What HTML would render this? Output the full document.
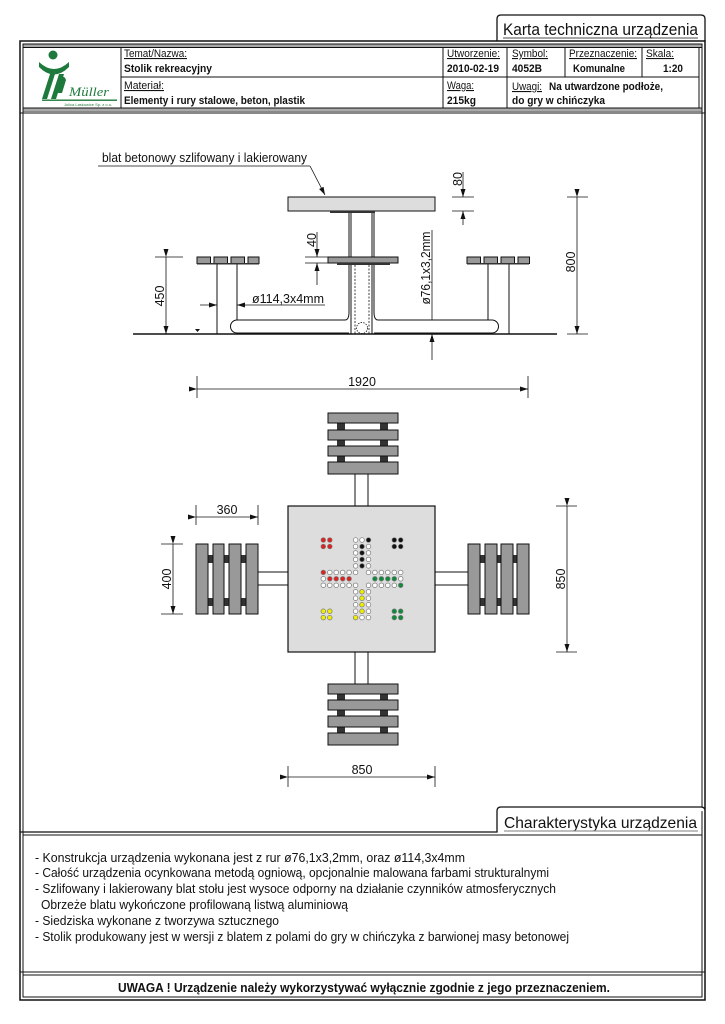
<!DOCTYPE html>
<html><head><meta charset="utf-8"><style>
html,body{margin:0;padding:0;background:#fff}
svg{display:block}
text{font-family:"Liberation Sans",sans-serif;fill:#111}
.b{font-weight:bold}
#dots circle{stroke:#777;stroke-width:0.7}
.W{fill:#fff}.R{fill:#d22}.K{fill:#111}.Y{fill:#ee0}.G{fill:#108a3a}
</style></head><body>
<svg width="725" height="1024" viewBox="0 0 725 1024" xmlns="http://www.w3.org/2000/svg">
<defs>
<marker id="a" markerWidth="8" markerHeight="6" refX="8" refY="3" orient="auto" markerUnits="userSpaceOnUse"><path d="M0,0.5 L8,3 L0,5.5 z" fill="#111"/></marker>
</defs>
<!-- top tab -->
<path d="M497,41 V19 Q497,15 501,15 H701 Q705,15 705,19 V41" fill="#fff" stroke="#111" stroke-width="1.3"/>
<text x="503" y="35" font-size="17" textLength="195" lengthAdjust="spacingAndGlyphs">Karta techniczna urządzenia</text>
<line x1="503" y1="38" x2="698" y2="38" stroke="#111" stroke-width="0.8"/>
<!-- frame -->
<rect x="20" y="41" width="685" height="959" fill="none" stroke="#111" stroke-width="1.5"/>
<rect x="23" y="44" width="679" height="953" fill="none" stroke="#111" stroke-width="1"/>
<!-- header -->
<rect x="23" y="44" width="679" height="67" fill="#fff" stroke="#111" stroke-width="1"/>
<line x1="20" y1="113" x2="705" y2="113" stroke="#111" stroke-width="1"/>
<rect x="23.5" y="44.5" width="678" height="3" fill="#aaa"/>
<rect x="23.5" y="108" width="678" height="3" fill="#aaa"/>
<line x1="23" y1="47.5" x2="702" y2="47.5" stroke="#111"/>
<line x1="23" y1="108" x2="702" y2="108" stroke="#111"/>
<g stroke="#111" stroke-width="1">
<line x1="121" y1="47" x2="121" y2="108"/>
<line x1="121" y1="77" x2="699" y2="77"/>
<line x1="443" y1="47" x2="443" y2="108"/>
<line x1="507" y1="47" x2="507" y2="108"/>
<line x1="565" y1="47" x2="565" y2="77"/>
<line x1="642" y1="47" x2="642" y2="77"/>
<line x1="699" y1="47" x2="699" y2="108"/>
</g>
<g font-size="11">
<text x="124" y="57" textLength="63" lengthAdjust="spacingAndGlyphs" text-decoration="underline">Temat/Nazwa:</text>
<text x="124" y="72" class="b" textLength="88" lengthAdjust="spacingAndGlyphs">Stolik rekreacyjny</text>
<text x="124" y="89" textLength="40" lengthAdjust="spacingAndGlyphs" text-decoration="underline">Materiał:</text>
<text x="124" y="104" class="b" textLength="181" lengthAdjust="spacingAndGlyphs">Elementy i rury stalowe, beton, plastik</text>
<text x="447" y="57" textLength="53" lengthAdjust="spacingAndGlyphs" text-decoration="underline">Utworzenie:</text>
<text x="447" y="72" class="b" textLength="52" lengthAdjust="spacingAndGlyphs">2010-02-19</text>
<text x="447" y="89" textLength="27" lengthAdjust="spacingAndGlyphs" text-decoration="underline">Waga:</text>
<text x="447" y="104" class="b" textLength="29" lengthAdjust="spacingAndGlyphs">215kg</text>
<text x="512" y="57" textLength="36" lengthAdjust="spacingAndGlyphs" text-decoration="underline">Symbol:</text>
<text x="512" y="72" class="b" textLength="30" lengthAdjust="spacingAndGlyphs">4052B</text>
<text x="569" y="57" textLength="68" lengthAdjust="spacingAndGlyphs" text-decoration="underline">Przeznaczenie:</text>
<text x="573" y="72" class="b" textLength="52" lengthAdjust="spacingAndGlyphs">Komunalne</text>
<text x="646" y="57" textLength="28" lengthAdjust="spacingAndGlyphs" text-decoration="underline">Skala:</text>
<text x="663" y="72" class="b" textLength="20" lengthAdjust="spacingAndGlyphs">1:20</text>
<text x="512" y="90" textLength="30" lengthAdjust="spacingAndGlyphs" text-decoration="underline">Uwagi:</text>
<text x="549" y="90" class="b" textLength="114" lengthAdjust="spacingAndGlyphs">Na utwardzone podłoże,</text>
<text x="512" y="104" class="b" textLength="93" lengthAdjust="spacingAndGlyphs">do gry w chińczyka</text>
</g>
<!-- logo -->
<g fill="#1e7a3c">
<circle cx="53" cy="55" r="4.5"/>
<path d="M39,62 Q54,76 69,62 L69,67 Q54,82 39,67 z"/>
<path d="M42,99 L50,74 L55,74 L47,99 z"/>
<path d="M51,99 L59,74 L64,74 L56,99 z"/>
<path d="M60,79 Q64,74 66,80 L62,93 L58,93 z"/>
<rect x="42" y="99.5" width="75" height="1.4"/>
</g>
<text x="69" y="96" font-size="13" font-style="italic" style="fill:#1e7a3c;font-family:'Liberation Serif',serif" textLength="40" lengthAdjust="spacingAndGlyphs">Müller</text>
<text x="64" y="106" font-size="4" style="fill:#1e7a3c">Julica Laskowice Sp. z o.o.</text>

<!-- SIDE VIEW -->
<g stroke="#111" fill="none" stroke-width="1">
<line x1="133" y1="334" x2="557" y2="334" stroke-width="1.6"/>
<path d="M345,320 H237 A6.5,6.5 0 0 0 237,333 H349"/>
<path d="M345,320 Q349,320 349,312 V211"/>
<path d="M378,320 H492 A6.5,6.5 0 0 1 492,333 H374"/>
<path d="M378,320 Q374,320 374,312 V211"/>
<line x1="351" y1="213" x2="351" y2="334"/>
<line x1="372" y1="213" x2="372" y2="334"/>
<line x1="355" y1="265" x2="355" y2="334" stroke-dasharray="2,1.5" stroke-width="0.8"/>
<line x1="369" y1="265" x2="369" y2="334" stroke-dasharray="2,1.5" stroke-width="0.8"/>
<circle cx="362" cy="328" r="5.5" stroke-dasharray="1.5,1.2" stroke-width="0.8"/>
<line x1="217" y1="264" x2="217" y2="334"/><line x1="237" y1="264" x2="237" y2="320"/>
<line x1="488" y1="264" x2="488" y2="320"/><line x1="509" y1="264" x2="509" y2="334"/>
</g>
<rect x="288" y="197" width="147" height="14" fill="#ddd" stroke="#111"/>
<rect x="330" y="211" width="45" height="2" fill="#333"/>
<rect x="328" y="257" width="70" height="6" fill="#999" stroke="#111"/>
<rect x="337" y="263" width="53" height="2" fill="#333"/>
<g fill="#999" stroke="#111" stroke-width="1">
<rect x="197" y="257" width="13.5" height="6.5"/><rect x="214" y="257" width="13.5" height="6.5"/><rect x="231" y="257" width="13.5" height="6.5"/><rect x="248" y="257" width="11" height="6.5"/>
<rect x="467" y="257" width="13.5" height="6.5"/><rect x="484" y="257" width="13.5" height="6.5"/><rect x="501" y="257" width="13.5" height="6.5"/><rect x="518" y="257" width="11.5" height="6.5"/>
</g>
<rect x="197" y="263" width="62" height="1.5" fill="#333"/>
<rect x="467" y="263" width="62" height="1.5" fill="#333"/>
<path d="M195,329 h5 l-2.5,3 z" fill="#111"/>
<g stroke="#111" stroke-width="0.8" fill="none">
<line x1="98" y1="166" x2="310" y2="166"/>
<line x1="310" y1="166" x2="325" y2="195" marker-end="url(#a)"/>
<line x1="155" y1="257" x2="183" y2="257"/>
<line x1="166" y1="257" x2="166" y2="334" marker-start="url(#a)" marker-end="url(#a)"/>
<line x1="200" y1="305" x2="217" y2="305" marker-end="url(#a)"/>
<line x1="325" y1="305" x2="237" y2="305" marker-end="url(#a)"/>
<line x1="305" y1="257" x2="330" y2="257"/><line x1="305" y1="263" x2="330" y2="263"/>
<line x1="317" y1="232" x2="317" y2="257" marker-end="url(#a)"/>
<line x1="317" y1="285" x2="317" y2="263" marker-end="url(#a)"/>
<line x1="452" y1="197" x2="474" y2="197"/><line x1="452" y1="211" x2="474" y2="211"/>
<line x1="463" y1="172" x2="463" y2="197" marker-end="url(#a)"/>
<line x1="463" y1="225" x2="463" y2="211" marker-end="url(#a)"/>
<line x1="432" y1="230" x2="432" y2="320"/>
<line x1="432" y1="360" x2="432" y2="334" marker-end="url(#a)"/>
<line x1="567" y1="197" x2="588" y2="197"/><line x1="567" y1="334" x2="588" y2="334"/>
<line x1="577" y1="197" x2="577" y2="334" marker-start="url(#a)" marker-end="url(#a)"/>
<line x1="197" y1="376" x2="197" y2="398"/><line x1="528" y1="376" x2="528" y2="398"/>
<line x1="197" y1="389" x2="528" y2="389" marker-start="url(#a)" marker-end="url(#a)"/>
</g>
<g font-size="12.5">
<text x="102" y="162" textLength="205" lengthAdjust="spacingAndGlyphs">blat betonowy szlifowany i lakierowany</text>
<text x="252" y="303" textLength="72" lengthAdjust="spacingAndGlyphs">ø114,3x4mm</text>
<text transform="translate(164,296) rotate(-90)" text-anchor="middle">450</text>
<text transform="translate(316,240) rotate(-90)" text-anchor="middle">40</text>
<text transform="translate(462,179) rotate(-90)" text-anchor="middle">80</text>
<text transform="translate(430,268) rotate(-90)" text-anchor="middle" textLength="73" lengthAdjust="spacingAndGlyphs">ø76,1x3,2mm</text>
<text transform="translate(575,262) rotate(-90)" text-anchor="middle">800</text>
<text x="362" y="386" text-anchor="middle">1920</text>
</g>

<!-- TOP VIEW -->
<g stroke="#111" stroke-width="1" fill="none">
<line x1="355" y1="474" x2="355" y2="506"/><line x1="368" y1="474" x2="368" y2="506"/>
<line x1="355" y1="652" x2="355" y2="684"/><line x1="368" y1="652" x2="368" y2="684"/>
<line x1="258" y1="572" x2="288" y2="572"/><line x1="258" y1="585" x2="288" y2="585"/>
<line x1="435" y1="572" x2="468" y2="572"/><line x1="435" y1="585" x2="468" y2="585"/>
</g>
<g fill="#333">
<rect x="337" y="413" width="8" height="61"/><rect x="380" y="413" width="8" height="61"/>
<rect x="337" y="684" width="8" height="61"/><rect x="380" y="684" width="8" height="61"/>
<rect x="196" y="555" width="62" height="8"/><rect x="196" y="598" width="62" height="8"/>
<rect x="468" y="555" width="61" height="8"/><rect x="468" y="598" width="61" height="8"/>
</g>
<g fill="#999" stroke="#111" stroke-width="1">
<rect x="328" y="413" width="70" height="10"/><rect x="328" y="430" width="70" height="10"/><rect x="328" y="446" width="70" height="10"/><rect x="328" y="462" width="70" height="12"/>
<rect x="328" y="684" width="70" height="10"/><rect x="328" y="700" width="70" height="10"/><rect x="328" y="716" width="70" height="11"/><rect x="328" y="733" width="70" height="12"/>
<rect x="196" y="544" width="12" height="70"/><rect x="213" y="544" width="11" height="70"/><rect x="229" y="544" width="12" height="70"/><rect x="246" y="544" width="12" height="70"/>
<rect x="468" y="544" width="12" height="70"/><rect x="485" y="544" width="12" height="70"/><rect x="501" y="544" width="12" height="70"/><rect x="517" y="544" width="12" height="70"/>
</g>
<rect x="288" y="506" width="147" height="146" fill="#ddd" stroke="#111" stroke-width="1.2"/>
<g id="dots">
<!-- j0 -->
<circle cx="323.3" cy="540" r="2.3" class="R"/><circle cx="329.8" cy="540" r="2.3" class="R"/><circle cx="355.6" cy="540" r="2.3" class="W"/><circle cx="362" cy="540" r="2.3" class="W"/><circle cx="368.5" cy="540" r="2.3" class="K"/><circle cx="394.3" cy="540" r="2.3" class="K"/><circle cx="400.7" cy="540" r="2.3" class="K"/>
<!-- j1 -->
<circle cx="323.3" cy="546.5" r="2.3" class="R"/><circle cx="329.8" cy="546.5" r="2.3" class="R"/><circle cx="355.6" cy="546.5" r="2.3" class="W"/><circle cx="362" cy="546.5" r="2.3" class="K"/><circle cx="368.5" cy="546.5" r="2.3" class="W"/><circle cx="394.3" cy="546.5" r="2.3" class="K"/><circle cx="400.7" cy="546.5" r="2.3" class="K"/>
<!-- j2-4 -->
<circle cx="355.6" cy="552.9" r="2.3" class="W"/><circle cx="362" cy="552.9" r="2.3" class="K"/><circle cx="368.5" cy="552.9" r="2.3" class="W"/>
<circle cx="355.6" cy="559.4" r="2.3" class="W"/><circle cx="362" cy="559.4" r="2.3" class="K"/><circle cx="368.5" cy="559.4" r="2.3" class="W"/>
<circle cx="355.6" cy="565.9" r="2.3" class="W"/><circle cx="362" cy="565.9" r="2.3" class="K"/><circle cx="368.5" cy="565.9" r="2.3" class="W"/>
<!-- j5 -->
<circle cx="323.3" cy="572.4" r="2.3" class="R"/><circle cx="329.8" cy="572.4" r="2.3" class="W"/><circle cx="336.2" cy="572.4" r="2.3" class="W"/><circle cx="342.7" cy="572.4" r="2.3" class="W"/><circle cx="349.1" cy="572.4" r="2.3" class="W"/><circle cx="355.6" cy="572.4" r="2.3" class="W"/><circle cx="368.5" cy="572.4" r="2.3" class="W"/><circle cx="374.9" cy="572.4" r="2.3" class="W"/><circle cx="381.4" cy="572.4" r="2.3" class="W"/><circle cx="387.8" cy="572.4" r="2.3" class="W"/><circle cx="394.3" cy="572.4" r="2.3" class="W"/><circle cx="400.7" cy="572.4" r="2.3" class="W"/>
<!-- j6 -->
<circle cx="323.3" cy="578.8" r="2.3" class="W"/><circle cx="329.8" cy="578.8" r="2.3" class="R"/><circle cx="336.2" cy="578.8" r="2.3" class="R"/><circle cx="342.7" cy="578.8" r="2.3" class="R"/><circle cx="349.1" cy="578.8" r="2.3" class="R"/><circle cx="374.9" cy="578.8" r="2.3" class="G"/><circle cx="381.4" cy="578.8" r="2.3" class="G"/><circle cx="387.8" cy="578.8" r="2.3" class="G"/><circle cx="394.3" cy="578.8" r="2.3" class="G"/><circle cx="400.7" cy="578.8" r="2.3" class="W"/>
<!-- j7 -->
<circle cx="323.3" cy="585.3" r="2.3" class="W"/><circle cx="329.8" cy="585.3" r="2.3" class="W"/><circle cx="336.2" cy="585.3" r="2.3" class="W"/><circle cx="342.7" cy="585.3" r="2.3" class="W"/><circle cx="349.1" cy="585.3" r="2.3" class="W"/><circle cx="355.6" cy="585.3" r="2.3" class="W"/><circle cx="368.5" cy="585.3" r="2.3" class="W"/><circle cx="374.9" cy="585.3" r="2.3" class="W"/><circle cx="381.4" cy="585.3" r="2.3" class="W"/><circle cx="387.8" cy="585.3" r="2.3" class="W"/><circle cx="394.3" cy="585.3" r="2.3" class="W"/><circle cx="400.7" cy="585.3" r="2.3" class="G"/>
<!-- j8-10 -->
<circle cx="355.6" cy="591.8" r="2.3" class="W"/><circle cx="362" cy="591.8" r="2.3" class="Y"/><circle cx="368.5" cy="591.8" r="2.3" class="W"/>
<circle cx="355.6" cy="598.2" r="2.3" class="W"/><circle cx="362" cy="598.2" r="2.3" class="Y"/><circle cx="368.5" cy="598.2" r="2.3" class="W"/>
<circle cx="355.6" cy="604.7" r="2.3" class="W"/><circle cx="362" cy="604.7" r="2.3" class="Y"/><circle cx="368.5" cy="604.7" r="2.3" class="W"/>
<!-- j11 -->
<circle cx="323.3" cy="611.2" r="2.3" class="Y"/><circle cx="329.8" cy="611.2" r="2.3" class="Y"/><circle cx="355.6" cy="611.2" r="2.3" class="W"/><circle cx="362" cy="611.2" r="2.3" class="Y"/><circle cx="368.5" cy="611.2" r="2.3" class="W"/><circle cx="394.3" cy="611.2" r="2.3" class="G"/><circle cx="400.7" cy="611.2" r="2.3" class="G"/>
<!-- j12 -->
<circle cx="323.3" cy="617.6" r="2.3" class="Y"/><circle cx="329.8" cy="617.6" r="2.3" class="Y"/><circle cx="355.6" cy="617.6" r="2.3" class="Y"/><circle cx="362" cy="617.6" r="2.3" class="W"/><circle cx="368.5" cy="617.6" r="2.3" class="W"/><circle cx="394.3" cy="617.6" r="2.3" class="G"/><circle cx="400.7" cy="617.6" r="2.3" class="G"/>
</g>
<g stroke="#111" stroke-width="0.8" fill="none">
<line x1="196" y1="505" x2="196" y2="525"/><line x1="258" y1="505" x2="258" y2="525"/>
<line x1="196" y1="517" x2="258" y2="517" marker-start="url(#a)" marker-end="url(#a)"/>
<line x1="161" y1="544" x2="183" y2="544"/><line x1="161" y1="614" x2="183" y2="614"/>
<line x1="173" y1="544" x2="173" y2="614" marker-start="url(#a)" marker-end="url(#a)"/>
<line x1="556" y1="506" x2="577" y2="506"/><line x1="556" y1="652" x2="577" y2="652"/>
<line x1="567" y1="506" x2="567" y2="652" marker-start="url(#a)" marker-end="url(#a)"/>
<line x1="288" y1="766" x2="288" y2="787"/><line x1="435" y1="766" x2="435" y2="787"/>
<line x1="288" y1="777" x2="435" y2="777" marker-start="url(#a)" marker-end="url(#a)"/>
</g>
<g font-size="12.5">
<text x="227" y="514" text-anchor="middle">360</text>
<text transform="translate(171,579) rotate(-90)" text-anchor="middle">400</text>
<text transform="translate(565,579) rotate(-90)" text-anchor="middle">850</text>
<text x="362" y="774" text-anchor="middle">850</text>
</g>

<!-- Charakterystyka -->
<path d="M20,832 H497 V811 Q497,807 501,807 H701 Q705,807 705,811" fill="#fff" stroke="#111" stroke-width="1.3"/>
<line x1="23" y1="835" x2="702" y2="835" stroke="#111"/>
<text x="504" y="828" font-size="16" textLength="193" lengthAdjust="spacingAndGlyphs">Charakterystyka urządzenia</text>
<line x1="504" y1="831" x2="698" y2="831" stroke="#999" stroke-width="1.2"/>
<g font-size="12.5">
<text x="35" y="862" textLength="430" lengthAdjust="spacingAndGlyphs">- Konstrukcja urządzenia wykonana jest z rur  ø76,1x3,2mm, oraz  ø114,3x4mm</text>
<text x="35" y="877" textLength="514" lengthAdjust="spacingAndGlyphs">- Całość urządzenia ocynkowana metodą ogniową, opcjonalnie malowana farbami strukturalnymi</text>
<text x="35" y="893" textLength="521" lengthAdjust="spacingAndGlyphs">- Szlifowany i lakierowany blat stołu jest wysoce odporny na działanie czynników atmosferycznych</text>
<text x="41" y="909" textLength="307" lengthAdjust="spacingAndGlyphs">Obrzeże blatu wykończone profilowaną listwą aluminiową</text>
<text x="35" y="925" textLength="244" lengthAdjust="spacingAndGlyphs">- Siedziska wykonane z tworzywa sztucznego</text>
<text x="35" y="941" textLength="534" lengthAdjust="spacingAndGlyphs">- Stolik produkowany jest w wersji z blatem z polami do gry w chińczyka z barwionej masy betonowej</text>
</g>
<line x1="20" y1="972" x2="705" y2="972" stroke="#111" stroke-width="1"/>
<line x1="23" y1="975" x2="702" y2="975" stroke="#111" stroke-width="1"/>
<text x="364" y="992" font-size="12.5" class="b" text-anchor="middle" textLength="492" lengthAdjust="spacingAndGlyphs">UWAGA ! Urządzenie należy wykorzystywać wyłącznie zgodnie z jego przeznaczeniem.</text>
</svg>
</body></html>
